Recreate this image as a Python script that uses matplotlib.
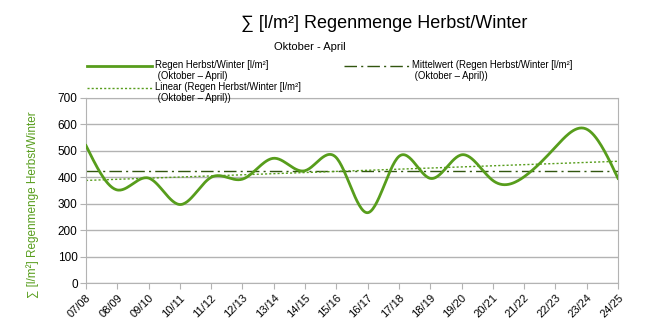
import numpy as np
import matplotlib.pyplot as plt
from matplotlib.lines import Line2D
from matplotlib.legend_handler import HandlerLine2D

plt.rcParams['font.family'] = ['Liberation Sans', 'DejaVu Sans']

# Saisons und Regenmengen (l/m², Oktober - April)
saisons = ['07/08', '08/09', '09/10', '10/11', '11/12', '12/13', '13/14', '14/15', '15/16',
           '16/17', '17/18', '18/19', '19/20', '20/21', '21/22', '22/23', '23/24', '24/25']
regen = [520, 352, 397, 297, 400, 393, 472, 425, 474,
         266, 479, 396, 485, 388, 402, 514, 582, 396]

yticks = [0, 100, 200, 300, 400, 500, 600, 700]

GRUEN = '#579d1c'
DUNKEL = '#31550f'
GRAU = '#b3b3b3'


def natural_spline(x, y, n=30):
    # natuerlicher kubischer Spline (wie LibreOffice "Kubischer Spline")
    x = np.asarray(x, float)
    y = np.asarray(y, float)
    k = len(x)
    h = np.diff(x)
    A = np.zeros((k, k))
    b = np.zeros(k)
    A[0, 0] = 1
    A[-1, -1] = 1
    for i in range(1, k - 1):
        A[i, i - 1] = h[i - 1]
        A[i, i] = 2 * (h[i - 1] + h[i])
        A[i, i + 1] = h[i]
        b[i] = 3 * ((y[i + 1] - y[i]) / h[i] - (y[i] - y[i - 1]) / h[i - 1])
    c = np.linalg.solve(A, b)
    xs, ys = [], []
    for i in range(k - 1):
        t = np.linspace(0, h[i], n, endpoint=False)
        bi = (y[i + 1] - y[i]) / h[i] - h[i] * (2 * c[i] + c[i + 1]) / 3
        di = (c[i + 1] - c[i]) / (3 * h[i])
        xs.append(x[i] + t)
        ys.append(y[i] + bi * t + c[i] * t ** 2 + di * t ** 3)
    xs.append([x[-1]])
    ys.append([y[-1]])
    return np.concatenate(xs), np.concatenate(ys)


class ObenHandler(HandlerLine2D):
    # Legendenlinie auf Hoehe der ersten Textzeile
    def create_artists(self, legend, orig_handle, xdescent, ydescent, width, height, fontsize, trans):
        arts = super().create_artists(legend, orig_handle, xdescent, ydescent, width, height, fontsize, trans)
        for a in arts:
            a.set_ydata(np.asarray(a.get_ydata()) + 0.55 * fontsize)
        return arts


x = np.arange(len(saisons))
xs, ys = natural_spline(x, regen)

mittel = np.mean(regen)
p = np.polyfit(x, regen, 1)

fig = plt.figure(figsize=(6.45, 3.3), dpi=100)
ax = fig.add_axes([86 / 645, 1 - 283 / 330, (618 - 86) / 645, (283 - 98) / 330])

ax.plot(xs, ys, color=GRUEN, lw=2, zorder=3)
ax.plot([x[0], x[-1]], [mittel, mittel], color=DUNKEL, lw=1, dashes=(9, 3, 1.5, 3), zorder=2)
ax.plot(x, np.polyval(p, x), color=GRUEN, lw=1, ls=(0, (1.5, 1.5)), zorder=2)

ax.set_xlim(x[0], x[-1])
ax.set_ylim(0, 700)
ax.set_yticks(yticks)
ax.set_xticks(x)
ax.set_xticklabels(saisons, rotation=45, ha='right', va='top', rotation_mode='anchor', fontsize=8)
ax.tick_params(axis='y', labelsize=8.5, length=4, color=GRAU, pad=2)
ax.tick_params(axis='x', length=4, color=GRAU, pad=3)
ax.grid(axis='y', color=GRAU, lw=1)
ax.set_axisbelow(True)
for s in ax.spines.values():
    s.set_color(GRAU)

fig.text(384 / 645, 1 - 23 / 330, '∑ [l/m²] Regenmenge Herbst/Winter', ha='center', va='center', fontsize=13)
fig.text(310 / 645, 1 - 47 / 330, 'Oktober - April', ha='center', va='center', fontsize=8)
fig.text(33 / 645, 1 - 205 / 330, '∑ [l/m²] Regenmenge Herbst/Winter', rotation=90,
         ha='center', va='center', fontsize=8.5, color=GRUEN)

handles = [Line2D([], [], color=GRUEN, lw=2),
           Line2D([], [], color=GRUEN, lw=1, ls=(0, (1.5, 1.5))),
           Line2D([], [], color=DUNKEL, lw=1, dashes=(9, 3, 1.5, 3))]
labels = ['Regen Herbst/Winter [l/m²]\n (Oktober – April)',
          'Linear (Regen Herbst/Winter [l/m²]\n (Oktober – April))',
          'Mittelwert (Regen Herbst/Winter [l/m²]\n (Oktober – April))']
fig.legend(handles, labels, ncol=2, loc='upper left', bbox_to_anchor=(82 / 645, 1 - 55 / 330),
           frameon=False, fontsize=6.9, handlelength=6.8, handletextpad=0.3,
           columnspacing=4.5, labelspacing=0.05, borderpad=0,
           handler_map={Line2D: ObenHandler()})

fig.savefig('out.png', dpi=100)
